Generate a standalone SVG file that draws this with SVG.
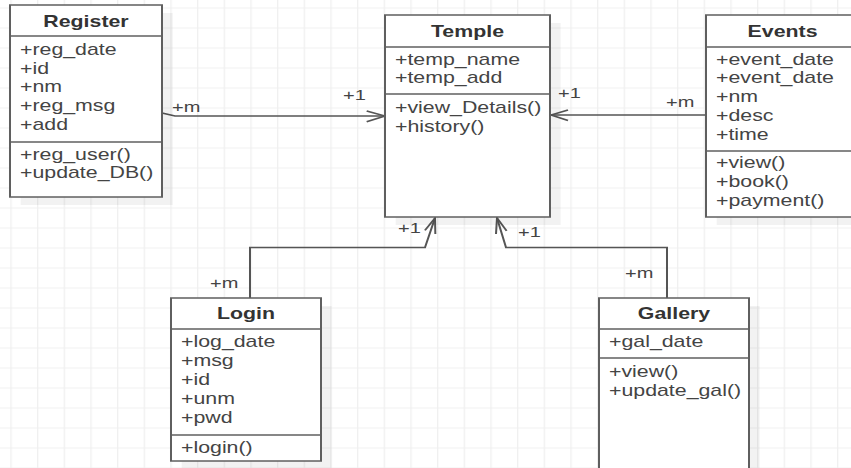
<svg xmlns="http://www.w3.org/2000/svg" width="851" height="468" viewBox="0 0 851 468">
<defs>
<pattern id="grid" x="7.75" y="7.5" width="20" height="20" patternUnits="userSpaceOnUse">
<path d="M0.5 0 V20 M0 0.5 H20" fill="none" stroke="#f0f0f0" stroke-width="1"/>
</pattern>
<style>
.box{fill:#ffffff;stroke:#5f5f5f;stroke-width:1.5}
.shadow{fill:#000000;fill-opacity:0.05;stroke:none}
.div{stroke:#5f5f5f;stroke-width:1.5}
.title{font-family:"Liberation Sans",Arial,sans-serif;font-size:16px;font-weight:bold;fill:#333333;text-anchor:middle}
.item{font-family:"Liberation Sans",Arial,sans-serif;font-size:16px;fill:#444444}
.lbl{font-family:"Liberation Sans",Arial,sans-serif;font-size:15px;fill:#444444}
.conn{fill:none;stroke:#555555;stroke-width:1.5}
</style>
</defs>
<rect x="0" y="0" width="851" height="468" fill="#ffffff"/>
<g transform="scale(1.3333333,1)">
<rect x="0" y="0" width="638.25" height="468" fill="url(#grid)"/>

<g id="connectors">
<path class="conn" d="M121.5,113 L131.25,116 L288.75,116"/>
<path class="conn" d="M275,111 L288.75,116 L275,121.7"/>
<path class="conn" d="M529.5,115 L413.25,115"/>
<path class="conn" d="M426,110 L413.25,115 L426,120.5"/>
<path class="conn" d="M187.5,298 V247.5 H318.75 L326.25,218"/>
<path class="conn" d="M318.7,230.4 L326.25,218 L326.5,234"/>
<path class="conn" d="M500.25,298 V247.5 H379.5 L372.75,218"/>
<path class="conn" d="M379.95,230.8 L372.75,218 L372,234"/>
<text class="lbl" x="129" y="112">+m</text>
<text class="lbl" x="257.25" y="100">+1</text>
<text class="lbl" x="418.5" y="98">+1</text>
<text class="lbl" x="499.5" y="107">+m</text>
<text class="lbl" x="298.5" y="233">+1</text>
<text class="lbl" x="157.5" y="288">+m</text>
<text class="lbl" x="388.5" y="237">+1</text>
<text class="lbl" x="468.75" y="278">+m</text>
</g>

<g id="register">
<rect class="shadow" x="15.5" y="13" width="114" height="192"/>
<rect class="box" x="7.5" y="5" width="114" height="192"/>
<line class="div" x1="7.5" y1="36" x2="121.5" y2="36"/>
<line class="div" x1="7.5" y1="142" x2="121.5" y2="142"/>
<text class="title" x="64.5" y="27">Register</text>
<text class="item" x="15" y="55">+reg_date</text>
<text class="item" x="15" y="74">+id</text>
<text class="item" x="15" y="92.5">+nm</text>
<text class="item" x="15" y="111">+reg_msg</text>
<text class="item" x="15" y="130">+add</text>
<text class="item" x="15" y="160">+reg_user()</text>
<text class="item" x="15" y="178">+update_DB()</text>
</g>

<g id="temple">
<rect class="shadow" x="296.75" y="23" width="123.75" height="202"/>
<rect class="box" x="288.75" y="15" width="123.75" height="202"/>
<line class="div" x1="288.75" y1="47" x2="412.5" y2="47"/>
<line class="div" x1="288.75" y1="94" x2="412.5" y2="94"/>
<text class="title" x="350.6" y="37">Temple</text>
<text class="item" x="296.25" y="65">+temp_name</text>
<text class="item" x="296.25" y="83.5">+temp_add</text>
<text class="item" x="296.25" y="113">+view_Details()</text>
<text class="item" x="296.25" y="132">+history()</text>
</g>

<g id="events">
<rect class="shadow" x="537.5" y="23" width="114" height="202"/>
<rect class="box" x="529.5" y="15" width="114" height="202"/>
<line class="div" x1="529.5" y1="47" x2="643.5" y2="47"/>
<line class="div" x1="529.5" y1="151" x2="643.5" y2="151"/>
<text class="title" x="586.9" y="37">Events</text>
<text class="item" x="537" y="65">+event_date</text>
<text class="item" x="537" y="83.5">+event_date</text>
<text class="item" x="537" y="102">+nm</text>
<text class="item" x="537" y="121">+desc</text>
<text class="item" x="537" y="140">+time</text>
<text class="item" x="537" y="168">+view()</text>
<text class="item" x="537" y="187">+book()</text>
<text class="item" x="537" y="206">+payment()</text>
</g>

<g id="login">
<rect class="shadow" x="136.25" y="306" width="112.5" height="163"/>
<rect class="box" x="128.25" y="298" width="112.5" height="163"/>
<line class="div" x1="128.25" y1="329" x2="240.75" y2="329"/>
<line class="div" x1="128.25" y1="435" x2="240.75" y2="435"/>
<text class="title" x="184.5" y="319">Login</text>
<text class="item" x="135.75" y="347">+log_date</text>
<text class="item" x="135.75" y="366.5">+msg</text>
<text class="item" x="135.75" y="385.5">+id</text>
<text class="item" x="135.75" y="404.5">+unm</text>
<text class="item" x="135.75" y="423">+pwd</text>
<text class="item" x="135.75" y="453">+login()</text>
</g>

<g id="gallery">
<rect class="shadow" x="457.25" y="306" width="112.5" height="190"/>
<rect class="box" x="449.25" y="298" width="112.5" height="190"/>
<line class="div" x1="449.25" y1="329" x2="561.75" y2="329"/>
<line class="div" x1="449.25" y1="358" x2="561.75" y2="358"/>
<text class="title" x="505.5" y="319">Gallery</text>
<text class="item" x="456.75" y="347">+gal_date</text>
<text class="item" x="456.75" y="377">+view()</text>
<text class="item" x="456.75" y="396">+update_gal()</text>
</g>
</g>
</svg>
